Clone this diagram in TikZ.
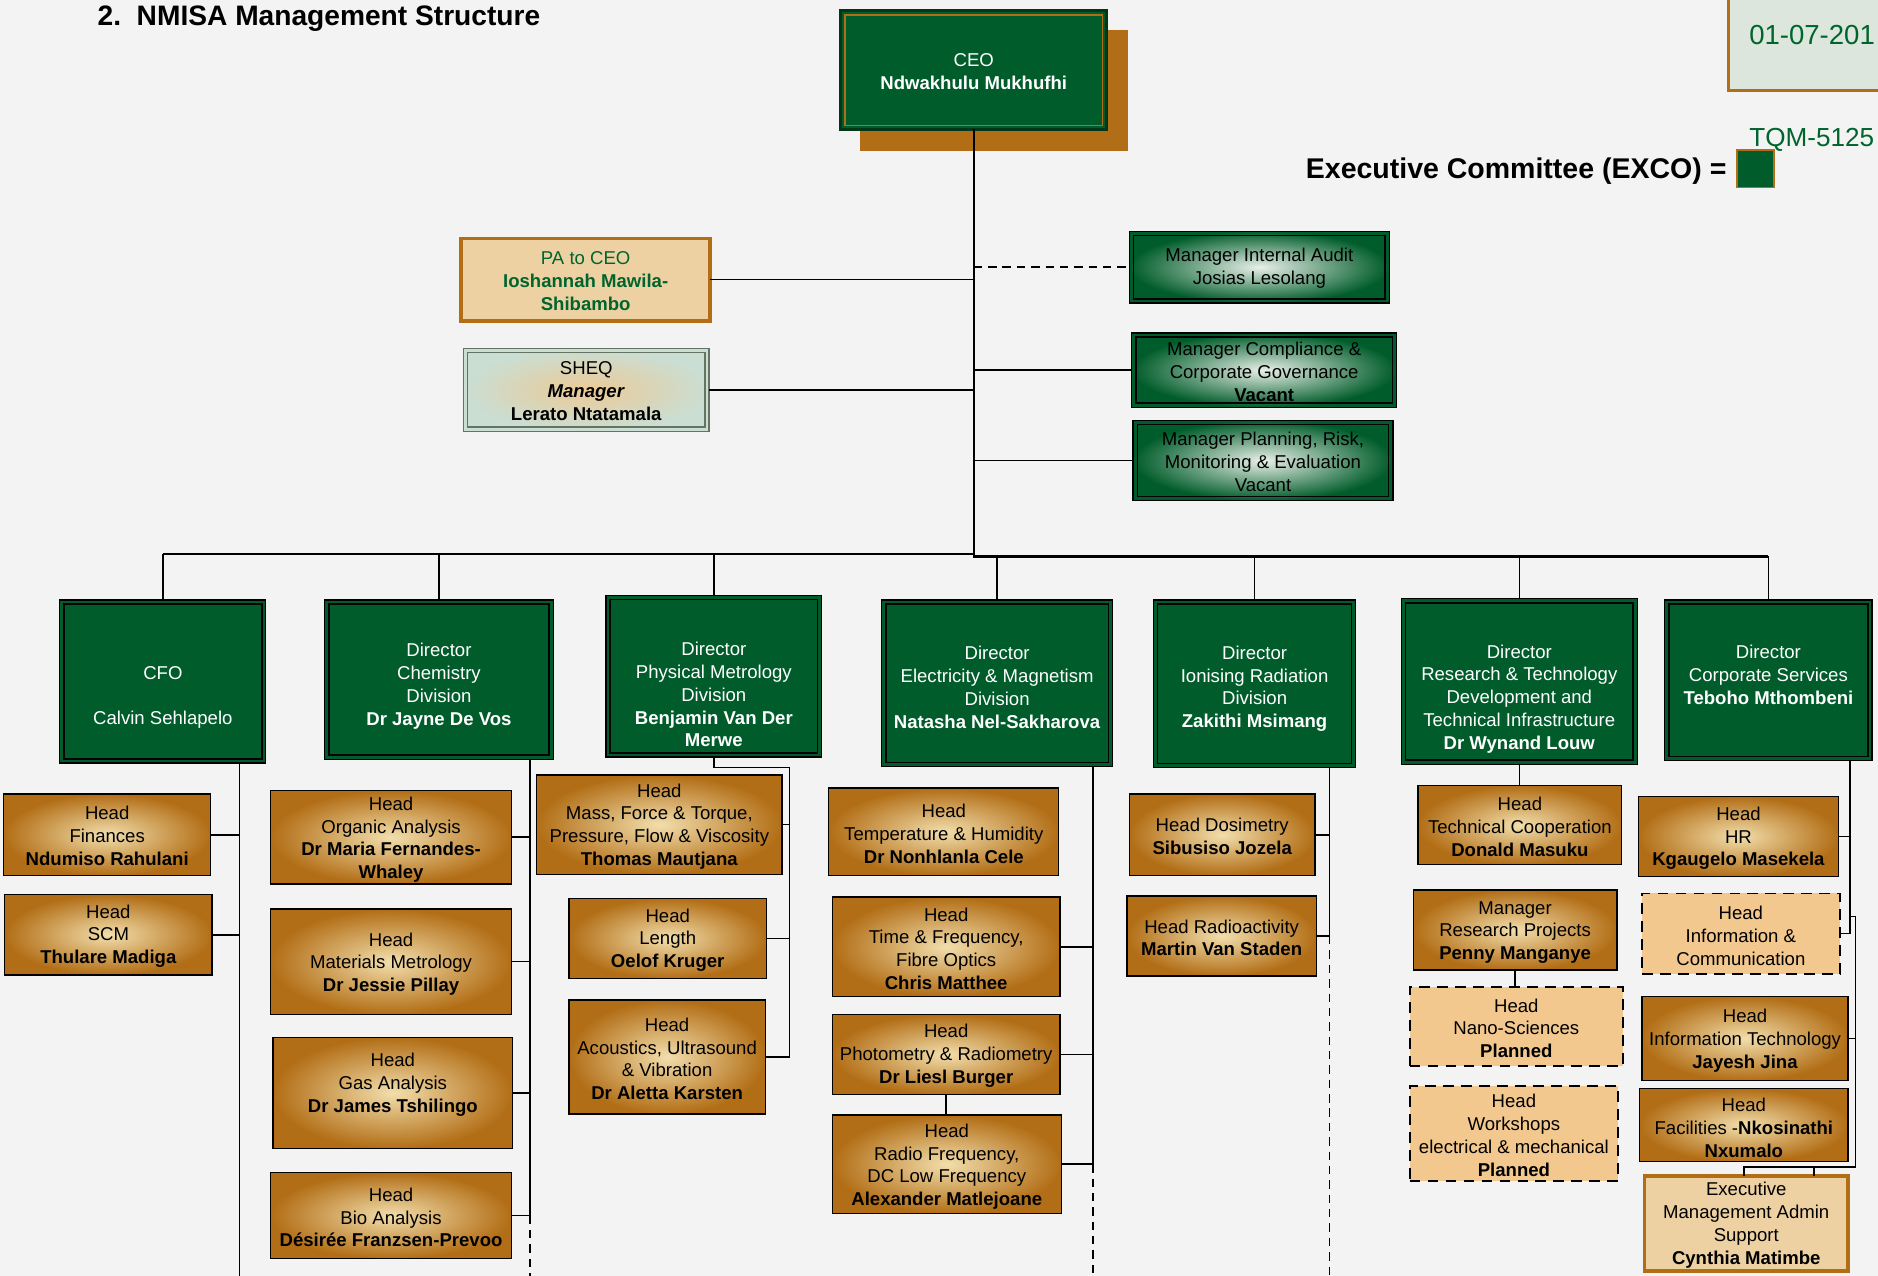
\documentclass[tikz,border=0pt]{standalone}
\usepackage{fontspec}
\setmainfont{Liberation Sans}
\definecolor{bg}{RGB}{243,243,243}
\definecolor{nmgreen}{RGB}{0,92,42}
\definecolor{nmorange}{RGB}{178,110,22}
\definecolor{headlight}{RGB}{242,222,172}
\definecolor{mgrlight}{RGB}{232,240,232}
\definecolor{planfill}{RGB}{242,200,142}
\definecolor{pafill}{RGB}{237,209,163}
\definecolor{sheqout}{RGB}{202,222,211}
\definecolor{sheqin}{RGB}{236,202,150}
\definecolor{sheqline}{RGB}{100,115,100}
\definecolor{datefill}{RGB}{220,230,220}
\definecolor{txtgreen}{RGB}{0,100,45}
\tikzset{
  bxbase/.style={inner sep=0pt, outer sep=0pt},
  inset/.style={path picture={\draw[#1] ([shift={(3.5pt,-3.5pt)}]path picture bounding box.north west) rectangle ([shift={(-3.5pt,3.5pt)}]path picture bounding box.south east);}},
  bxceo/.style={bxbase, fill=nmgreen, draw=nmgreen!60!black, line width=2.5pt, inset={nmorange, line width=1pt}},
  bxdir/.style={bxbase, fill=nmgreen, draw=black, line width=1pt, inset={black, line width=1.4pt}},
  bxmgr/.style={bxbase, shade, shading=radial, inner color=mgrlight, outer color=nmgreen, draw=black, line width=1pt, inset={black, line width=1.2pt}},
  bxhead/.style={bxbase, shade, shading=radial, inner color=headlight, outer color=nmorange, draw=black, line width=1.1pt},
  bxplan/.style={bxbase, fill=planfill, draw=black, line width=1.4pt, dash pattern=on 9pt off 6pt},
  bxpa/.style={bxbase, fill=pafill, draw=nmorange, line width=3pt},
  bxsheq/.style={bxbase, shade, shading=radial, inner color=sheqin, outer color=sheqout, draw=sheqline, line width=1pt, inset={sheqline, line width=1.2pt}},
  txt/.style={align=center, inner sep=0pt, font=\fontsize{15.5}{19}\selectfont},
  bxceo txt/.style={text=white},
  bxdir txt/.style={text=white},
  bxmgr txt/.style={text=black},
  bxhead txt/.style={text=black},
  bxplan txt/.style={text=black},
  bxpa txt/.style={text=txtgreen},
  bxea txt/.style={text=black},
  bxsheq txt/.style={text=black},
  bxea/.style={bxpa},
  conn/.style={line width=1.2pt, black},
  trunk/.style={line width=2pt, black},
  dconn/.style={conn, dash pattern=on 7pt off 5pt},
}
\newcommand\orgbox[8]{%
  \node[#2, minimum width={(#5)-(#3)}, minimum height={(#6)-(#4)}] (#1) at ({((#3)+(#5))/2},{((#4)+(#6))/2}) {};
  \node[txt, #2 txt] (#1-t) at ({((#3)+(#5))/2},#7+1.5) {#8};
}
\begin{document}
\begin{tikzpicture}[x=1pt,y=-1pt]
\useasboundingbox (0,0) rectangle (1568,1065);
\clip (0,0) rectangle (1568,1065);
\fill[bg] (0,0) rectangle (1568,1065);

% header texts
\node[anchor=base west, font=\bfseries\fontsize{23.5}{28}\selectfont] (title) at (78,21) {2.\ \ NMISA Management Structure};
\node[bxbase, fill=datefill, draw=nmorange, line width=2pt, minimum width=160, minimum height=85, anchor=south west] (datebox) at (1443,75.5) {};
\node[anchor=base west, text=txtgreen, font=\fontsize{23}{28}\selectfont] (date) at (1457,37) {01-07-201};
\node[anchor=base west, text=txtgreen, font=\fontsize{21.8}{28}\selectfont] (tqm) at (1457,122.5) {TQM-5125};
\node[anchor=base east, font=\bfseries\fontsize{23.8}{28}\selectfont] (exco) at (1445,149) {Executive Committee (EXCO) =};
\node[bxbase, fill=nmgreen, draw=nmorange, line width=1.5pt, minimum width=31, minimum height=31] (excosq) at (1465.5,141) {};

% CEO
\fill[nmorange] (718,25) rectangle (942,126);
\orgbox{CEO}{bxceo}{702}{9}{924}{108}{58}{CEO\\\textbf{Ndwakhulu Mukhufhi}}

% staff
\orgbox{PA}{bxpa}{385}{199}{593}{268}{233}{PA to CEO\\\textbf{Ioshannah Mawila-}\\\textbf{Shibambo}}
\orgbox{SHEQ}{bxsheq}{387}{291}{592}{360}{325}{SHEQ\\\textbf{\textit{Manager}}\\\textbf{Lerato Ntatamala}}
\orgbox{MIA}{bxmgr}{943}{193}{1160}{253}{222.5}{Manager Internal Audit\\Josias Lesolang}
\orgbox{MCC}{bxmgr}{945}{278}{1166}{340}{309}{Manager Compliance \&\\Corporate Governance\\\textbf{Vacant}}
\orgbox{MPR}{bxmgr}{946}{351}{1163}{418}{384}{Manager Planning, Risk,\\Monitoring \& Evaluation\\Vacant}

% directors
\orgbox{CFO}{bxdir}{50}{501}{222}{637}{581}{CFO\\[19pt]Calvin Sehlapelo}
\orgbox{CHEM}{bxdir}{271}{501}{462}{634}{571.5}{Director\\Chemistry\\Division\\\textbf{Dr Jayne De Vos}}
\orgbox{PHYS}{bxdir}{506}{497}{686}{632}{578.5}{Director\\Physical Metrology\\Division\\\textbf{Benjamin Van Der}\\\textbf{Merwe}}
\orgbox{EM}{bxdir}{736}{501}{929}{640}{572.5}{Director\\Electricity \& Magnetism\\Division\\\textbf{Natasha Nel-Sakharova}}
\orgbox{IR}{bxdir}{963}{501}{1132}{641}{573.5}{Director\\Ionising Radiation\\Division\\\textbf{Zakithi Msimang}}
\orgbox{RT}{bxdir}{1170}{500}{1367}{638}{582}{Director\\Research \& Technology\\Development and\\Technical Infrastructure\\\textbf{Dr Wynand Louw}}
\orgbox{CS}{bxdir}{1390}{501}{1563}{635}{562}{Director\\Corporate Services\\\textbf{Teboho Mthombeni}}

% CFO heads
\orgbox{FIN}{bxhead}{3}{663}{176}{731}{696.5}{Head\\Finances\\\textbf{Ndumiso Rahulani}}
\orgbox{SCM}{bxhead}{4}{747}{177}{814}{780}{Head\\SCM\\\textbf{Thulare Madiga}}
% Chemistry heads
\orgbox{ORG}{bxhead}{226}{660}{427}{738}{699.5}{Head\\Organic Analysis\\\textbf{Dr Maria Fernandes-}\\\textbf{Whaley}}
\orgbox{MAT}{bxhead}{226}{759}{427}{847}{803.5}{Head\\Materials Metrology\\\textbf{Dr Jessie Pillay}}
\orgbox{GAS}{bxhead}{228}{866}{428}{959}{904}{Head\\Gas Analysis\\\textbf{Dr James Tshilingo}}
\orgbox{BIO}{bxhead}{226}{979}{427}{1051}{1015}{Head\\Bio Analysis\\\textbf{Désirée Franzsen-Prevoo}}
% Physical heads
\orgbox{MASS}{bxhead}{448}{647}{653}{730}{688.5}{Head\\Mass, Force \& Torque,\\Pressure, Flow \& Viscosity\\\textbf{Thomas Mautjana}}
\orgbox{LEN}{bxhead}{475}{750}{640}{817}{783.5}{Head\\Length\\\textbf{Oelof Kruger}}
\orgbox{ACO}{bxhead}{475}{835}{639}{930}{882.5}{Head\\Acoustics, Ultrasound\\\& Vibration\\\textbf{Dr Aletta Karsten}}
% E&M heads
\orgbox{TEMP}{bxhead}{692}{658}{884}{731}{694.5}{Head\\Temperature \& Humidity\\\textbf{Dr Nonhlanla Cele}}
\orgbox{TIME}{bxhead}{695}{749}{885}{832}{790.5}{Head\\Time \& Frequency,\\Fibre Optics\\\textbf{Chris Matthee}}
\orgbox{PHOT}{bxhead}{695}{847}{885}{914}{880}{Head\\Photometry \& Radiometry\\\textbf{Dr Liesl Burger}}
\orgbox{RF}{bxhead}{695}{931}{886}{1013}{972.5}{Head\\Radio Frequency,\\DC Low Frequency\\\textbf{Alexander Matlejoane}}
% IR heads
\orgbox{DOS}{bxhead}{943}{663}{1098}{731}{696.5}{Head Dosimetry\\\textbf{Sibusiso Jozela}}
\orgbox{RAD}{bxhead}{941}{748}{1099}{815}{781.5}{Head Radioactivity\\\textbf{Martin Van Staden}}
% R&T heads
\orgbox{TC}{bxhead}{1184}{656}{1354}{722}{689}{Head\\Technical Cooperation\\\textbf{Donald Masuku}}
\orgbox{RP}{bxhead}{1180}{743}{1350}{810}{777}{Manager\\Research Projects\\\textbf{Penny Manganye}}
\orgbox{NANO}{bxplan}{1177}{824}{1355}{890}{857}{Head\\Nano-Sciences\\\textbf{Planned}}
\orgbox{WORK}{bxplan}{1177}{907}{1351}{986}{946.5}{Head\\Workshops\\electrical \& mechanical\\\textbf{Planned}}
% Corporate heads
\orgbox{HR}{bxhead}{1368}{665}{1535}{732}{698.5}{Head\\HR\\\textbf{Kgaugelo Masekela}}
\orgbox{IC}{bxplan}{1371}{746}{1536}{813}{780}{Head\\Information \&\\Communication}
\orgbox{IT}{bxhead}{1371}{832}{1543}{902}{867.5}{Head\\Information Technology\\\textbf{Jayesh Jina}}
\orgbox{FAC}{bxhead}{1369}{909}{1543}{970}{940}{Head\\Facilities -\textbf{Nkosinathi}\\\textbf{Nxumalo}}
\orgbox{EA}{bxea}{1373}{982}{1543}{1061}{1021.5}{Executive\\Management Admin\\Support\\\textbf{Cynthia Matimbe}}

% helper coordinates
\coordinate (busL) at (0,462.5);
\coordinate (busR) at (0,464.5);
\coordinate (bottom) at (0,1070);
\coordinate (cfoX) at (200,0);
\coordinate (chemX) at (442.5,0);
\coordinate (physX) at (659,0);
\coordinate (physJ) at (0,641);
\coordinate (emX) at (912.5,0);
\coordinate (irX) at (1110,0);
\coordinate (csX) at (1544.6,0);
\coordinate (cs2X) at (1549,0);
\coordinate (jog) at (0,765);
\coordinate (eaBus) at (0,974.5);
\coordinate (eaL) at (1456,0);
\coordinate (eaR) at (1514.6,0);

% trunk and bus
\draw[trunk] (CEO.south) -- (CEO.south |- busL);
\draw[trunk] (CFO.north |- busL) -- (CEO.south |- busL) -- (CEO.south |- busR) -- (CS.north |- busR);
\foreach \n in {CFO,CHEM,PHYS} \draw[conn] (\n.north) -- (\n.north |- busL);
\foreach \n in {EM,IR,RT,CS} \draw[conn] (\n.north) -- (\n.north |- busR);

% staff connectors
\draw[conn] (PA.east) -- (PA.east -| CEO.south);
\draw[conn] (SHEQ.east) -- (SHEQ.east -| CEO.south);
\draw[dconn] (CEO.south |- MIA.west) -- (MIA.west);
\draw[conn] (CEO.south |- MCC.west) -- (MCC.west);
\draw[conn] (CEO.south |- MPR.west) -- (MPR.west);

% CFO
\draw[conn] (CFO.south -| cfoX) -- (cfoX |- bottom);
\draw[conn] (FIN.east) -- (FIN.east -| cfoX);
\draw[conn] (SCM.east) -- (SCM.east -| cfoX);

% Chemistry
\draw[conn] (CHEM.south -| chemX) -- (BIO.east -| chemX);
\draw[dconn] (BIO.east -| chemX) -- (chemX |- bottom);
\foreach \n in {ORG,MAT,GAS,BIO} \draw[conn] (\n.east) -- (\n.east -| chemX);

% Physical
\draw[conn] (PHYS.south) -- (PHYS.south |- physJ) -- (physX |- physJ) -- (ACO.east -| physX) -- (ACO.east);
\draw[conn] (MASS.east) -- (MASS.east -| physX);
\draw[conn] (LEN.east) -- (LEN.east -| physX);

% E&M
\draw[conn] (EM.south -| emX) -- (RF.east -| emX);
\draw[dconn] (RF.east -| emX) -- (emX |- bottom);
\foreach \n in {TIME,PHOT,RF} \draw[conn] (\n.east) -- (\n.east -| emX);
\draw[conn] (PHOT.south) -- (PHOT.south |- RF.north);

% IR
\draw[conn] (IR.south -| irX) -- (RAD.east -| irX);
\draw[dconn] (RAD.east -| irX) -- (irX |- bottom);
\draw[conn] (DOS.east) -- (DOS.east -| irX);
\draw[conn] (RAD.east) -- (RAD.east -| irX);

% R&T
\draw[conn] (RT.south) -- (RT.south |- TC.north);
\draw[conn] (RP.south) -- (RP.south |- NANO.north);

% Corporate
\draw[conn] (CS.south -| csX) -- (IC.east -| csX);
\draw[conn] (HR.east) -- (HR.east -| csX);
\draw[conn] (IC.east) -- (IC.east -| csX);
\draw[conn] (csX |- jog) -- (cs2X |- jog) -- (cs2X |- eaBus) -- (eaL |- eaBus) -- (EA.north -| eaL);
\draw[conn] (eaR |- eaBus) -- (EA.north -| eaR);
\draw[conn] (IT.east) -- (IT.east -| cs2X);
\end{tikzpicture}
\end{document}
